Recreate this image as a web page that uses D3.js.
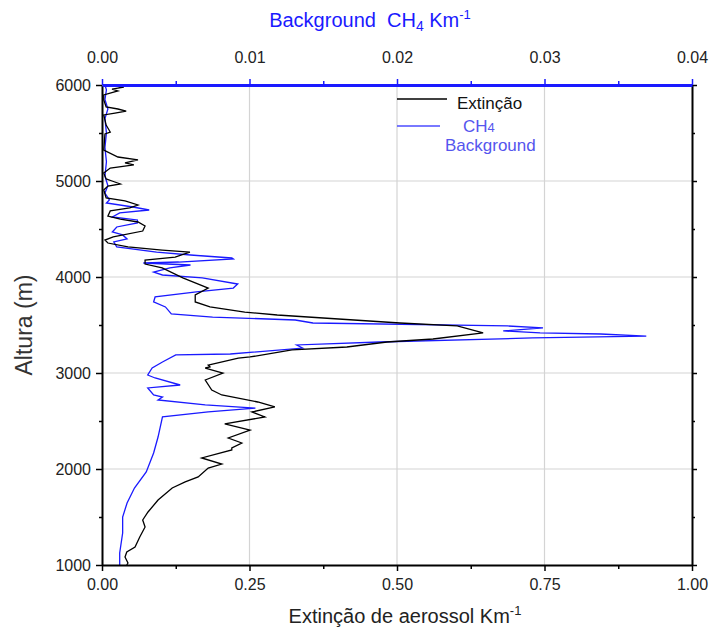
<!DOCTYPE html>
<html>
<head>
<meta charset="utf-8">
<script src="https://cdn.jsdelivr.net/npm/d3@7"></script>
<style>
body { margin: 0; background: #fff; }
text { font-family: "Liberation Sans", Arial, sans-serif; }
</style>
</head>
<body>
<script>
var w = 715;
var h = 632;
var padL = 102, padR = 692, padT = 85, padB = 565;

//Extinção profile: altitude (m) and extinction (Km-1), top to bottom
var extAlt = [6000, 5979, 5958, 5938, 5896, 5844, 5771, 5750, 5729, 5708, 5688, 5583, 5510, 5490, 5323, 5250, 5219, 5188, 5167, 5135,
    5083, 5021, 5000, 4969, 4948, 4906, 4823, 4792, 4750, 4719, 4688, 4635, 4604, 4573, 4531, 4479, 4417, 4385, 4354, 4313,
    4281, 4260, 4208, 4177, 4135, 4094, 3990, 3885, 3813, 3740, 3688, 3635, 3604, 3521, 3490, 3417, 3354, 3323, 3271, 3240,
    3167, 3156, 3083, 3063, 3052, 3000, 2927, 2823, 2771, 2698, 2646, 2594, 2542, 2469, 2406, 2323, 2271, 2219, 2198, 2115,
    2052, 2010, 1917, 1865, 1802, 1677, 1552, 1469, 1396, 1292, 1188, 1135, 1083, 1021, 1000];
var extVal = [0.010, 0.037, 0.017, 0.027, 0.003, 0.003, 0.007, 0.027, 0.041, 0.022, 0.003, 0.007, 0.014, 0.005, 0.003, 0.027, 0.061, 0.039, 0.054, 0.014,
    0.003, 0.007, 0.017, 0.031, 0.010, 0.003, 0.007, 0.039, 0.061, 0.047, 0.014, 0.010, 0.031, 0.061, 0.073, 0.069, 0.019, 0.005, 0.010, 0.044,
    0.102, 0.149, 0.124, 0.073, 0.073, 0.102, 0.137, 0.180, 0.158, 0.158, 0.183, 0.242, 0.297, 0.505, 0.602, 0.646, 0.561, 0.483, 0.415, 0.322,
    0.251, 0.231, 0.180, 0.183, 0.175, 0.205, 0.175, 0.186, 0.203, 0.264, 0.293, 0.254, 0.276, 0.208, 0.251, 0.214, 0.237, 0.220, 0.220, 0.169,
    0.203, 0.180, 0.163, 0.141, 0.119, 0.095, 0.078, 0.069, 0.073, 0.064, 0.056, 0.042, 0.039, 0.044, 0.042];

//CH4 background profile: altitude (m) and value (Km-1, top axis)
var ch4Alt = [6000, 5950, 5850, 5750, 5650, 5500, 5350, 5200, 5050, 4950, 4875, 4802, 4771, 4729, 4698, 4667, 4625, 4594, 4563, 4521,
    4469, 4438, 4396, 4365, 4313, 4260, 4229, 4198, 4188, 4156, 4146, 4125, 4094, 4052, 4021, 3990, 3927, 3885, 3844, 3792,
    3740, 3688, 3615, 3583, 3552, 3521, 3490, 3469, 3438, 3417, 3406, 3385, 3365, 3323, 3292, 3260, 3198, 3188, 3115, 3052,
    2979, 2948, 2875, 2844, 2771, 2750, 2719, 2667, 2635, 2594, 2542, 2333, 2167, 1969, 1802, 1646, 1500, 1333, 1125, 1000];
var ch4Val = [0.0002, 0.0003, 0.0002, 0.0004, 0.0002, 0.0003, 0.0002, 0.0003, 0.0002, 0.0004, 0.0002, 0.0005, 0.0003, 0.0021, 0.0032, 0.0012, 0.0007, 0.0024, 0.0024, 0.0010,
    0.0007, 0.0014, 0.0017, 0.0008, 0.0010, 0.0037, 0.0060, 0.0088, 0.0089, 0.0052, 0.0028, 0.0060, 0.0046, 0.0035, 0.0041, 0.0068, 0.0092, 0.0089, 0.0064, 0.0036,
    0.0035, 0.0043, 0.0047, 0.0075, 0.0131, 0.0143, 0.0275, 0.0299, 0.0272, 0.0297, 0.0338, 0.0369, 0.0292, 0.0188, 0.0132, 0.0136, 0.0087, 0.0050, 0.0041, 0.0034,
    0.0031, 0.0036, 0.0053, 0.0031, 0.0035, 0.0041, 0.0038, 0.0070, 0.0104, 0.0072, 0.0041, 0.0038, 0.0035, 0.0030, 0.0022, 0.0017, 0.0014, 0.0014, 0.0012, 0.0012];

//Tick values
var extTicks = [0, 0.25, 0.5, 0.75, 1];
var extMinor = [0.125, 0.375, 0.625, 0.875];
var ch4Ticks = [0, 0.01, 0.02, 0.03, 0.04];
var ch4Minor = [0.005, 0.015, 0.025, 0.035];
var altTicks = [1000, 2000, 3000, 4000, 5000, 6000];
var altMinor = [1500, 2500, 3500, 4500, 5500];

var extData = extAlt.map(function (a, i) { return { alt: a, v: extVal[i] }; });
var ch4Data = ch4Alt.map(function (a, i) { return { alt: a, v: ch4Val[i] }; });

//Scales
var xScale = d3.scaleLinear().domain([0, 1]).range([padL, padR]);
var x2Scale = d3.scaleLinear().domain([0, 0.04]).range([padL, padR]);
var yScale = d3.scaleLinear().domain([1000, 6000]).range([padB, padT]);

var svg = d3.select("body")
    .append("svg")
    .attr("width", w)
    .attr("height", h);

//grid lines
svg.selectAll("line.vgrid")
    .data([0.25, 0.5, 0.75])
    .enter()
    .append("line")
    .attr("class", "vgrid")
    .attr("x1", function (d) { return xScale(d); })
    .attr("x2", function (d) { return xScale(d); })
    .attr("y1", padT)
    .attr("y2", padB)
    .attr("stroke", "#d4d4d4")
    .attr("stroke-width", 1.2);

svg.selectAll("line.hgrid")
    .data([2000, 3000, 4000, 5000])
    .enter()
    .append("line")
    .attr("class", "hgrid")
    .attr("x1", padL)
    .attr("x2", padR)
    .attr("y1", function (d) { return yScale(d); })
    .attr("y2", function (d) { return yScale(d); })
    .attr("stroke", "#d4d4d4")
    .attr("stroke-width", 1.2);

//profiles
var extLine = d3.line()
    .x(function (d) { return xScale(d.v); })
    .y(function (d) { return yScale(d.alt); });
var ch4Line = d3.line()
    .x(function (d) { return x2Scale(d.v); })
    .y(function (d) { return yScale(d.alt); });

svg.append("path")
    .datum(ch4Data)
    .attr("d", ch4Line)
    .attr("fill", "none")
    .attr("stroke", "#1a1aff")
    .attr("stroke-width", 1.3);

svg.append("path")
    .datum(extData)
    .attr("d", extLine)
    .attr("fill", "none")
    .attr("stroke", "#000")
    .attr("stroke-width", 1.3);

//axes
function styleAxis(g, color, width) {
    g.selectAll(".domain").attr("stroke", color).attr("stroke-width", width);
    g.selectAll(".tick line").attr("stroke", color).attr("stroke-width", 1.5);
    g.selectAll(".tick text")
        .attr("fill", "#222")
        .style("font-size", "16px")
        .style("font-family", "'Liberation Sans', Arial, sans-serif");
}

var bottomAxis = svg.append("g")
    .attr("transform", "translate(0," + padB + ")")
    .call(d3.axisBottom(xScale).tickValues(extTicks).tickSize(6).tickSizeOuter(0).tickPadding(8)
        .tickFormat(d3.format(".2f")));
styleAxis(bottomAxis, "#000", 2);

svg.append("g")
    .attr("transform", "translate(0," + padB + ")")
    .call(d3.axisBottom(xScale).tickValues(extMinor).tickSize(4).tickFormat(""))
    .call(function (g) { g.select(".domain").remove(); styleAxis(g, "#000", 2); });

var leftAxis = svg.append("g")
    .attr("transform", "translate(" + padL + ",0)")
    .call(d3.axisLeft(yScale).tickValues(altTicks).tickSize(6).tickSizeOuter(0).tickPadding(5)
        .tickFormat(d3.format("d")));
styleAxis(leftAxis, "#000", 2);

svg.append("g")
    .attr("transform", "translate(" + padL + ",0)")
    .call(d3.axisLeft(yScale).tickValues(altMinor).tickSize(3).tickFormat(""))
    .call(function (g) { g.select(".domain").remove(); styleAxis(g, "#000", 2); });

var rightAxis = svg.append("g")
    .attr("transform", "translate(" + padR + ",0)")
    .call(d3.axisRight(yScale).tickValues(altTicks).tickSize(5).tickSizeOuter(0).tickFormat(""));
styleAxis(rightAxis, "#000", 2);

svg.append("g")
    .attr("transform", "translate(" + padR + ",0)")
    .call(d3.axisRight(yScale).tickValues(altMinor).tickSize(3).tickFormat(""))
    .call(function (g) { g.select(".domain").remove(); styleAxis(g, "#000", 2); });

var topAxis = svg.append("g")
    .attr("transform", "translate(0," + padT + ")")
    .call(d3.axisTop(x2Scale).tickValues(ch4Ticks).tickSize(6).tickSizeOuter(0).tickPadding(16)
        .tickFormat(d3.format(".2f")));
styleAxis(topAxis, "#1a1aff", 3);

svg.append("g")
    .attr("transform", "translate(0," + padT + ")")
    .call(d3.axisTop(x2Scale).tickValues(ch4Minor).tickSize(4).tickFormat(""))
    .call(function (g) { g.select(".domain").remove(); styleAxis(g, "#1a1aff", 3); });

//axis titles
var topTitle = svg.append("text")
    .attr("x", 370)
    .attr("y", 27)
    .attr("text-anchor", "middle")
    .attr("fill", "#1a1aff")
    .style("white-space", "pre")
    .style("font-size", "20px");
topTitle.append("tspan").text("Background  CH");
topTitle.append("tspan").attr("dy", 4).style("font-size", "14px").text("4");
topTitle.append("tspan").attr("dy", -4).text(" Km");
topTitle.append("tspan").attr("dy", -8).style("font-size", "13px").text("-1");

var bottomTitle = svg.append("text")
    .attr("x", 405)
    .attr("y", 623)
    .attr("text-anchor", "middle")
    .attr("fill", "#222")
    .style("font-size", "20px");
bottomTitle.append("tspan").text("Extinção de aerossol Km");
bottomTitle.append("tspan").attr("dy", -8).style("font-size", "13px").text("-1");

svg.append("text")
    .attr("transform", "translate(32,325) rotate(-90)")
    .attr("text-anchor", "middle")
    .attr("fill", "#333")
    .style("font-size", "23px")
    .text("Altura (m)");

//legend
svg.append("line")
    .attr("x1", 397).attr("x2", 447)
    .attr("y1", 99).attr("y2", 99)
    .attr("stroke", "#000").attr("stroke-width", 1.3);
svg.append("text")
    .attr("x", 457).attr("y", 109)
    .attr("fill", "#111")
    .style("font-size", "17px")
    .text("Extinção");

svg.append("line")
    .attr("x1", 397).attr("x2", 440)
    .attr("y1", 126).attr("y2", 126)
    .attr("stroke", "#4d4dff").attr("stroke-width", 1.3);
var ch4Label = svg.append("text")
    .attr("x", 463).attr("y", 132)
    .attr("fill", "#5555ee")
    .style("font-size", "17px");
ch4Label.append("tspan").text("CH");
ch4Label.append("tspan").style("font-size", "13px").text("4");
svg.append("text")
    .attr("x", 445).attr("y", 151)
    .attr("fill", "#5555ee")
    .style("font-size", "17px")
    .text("Background");
</script>
</body>
</html>
